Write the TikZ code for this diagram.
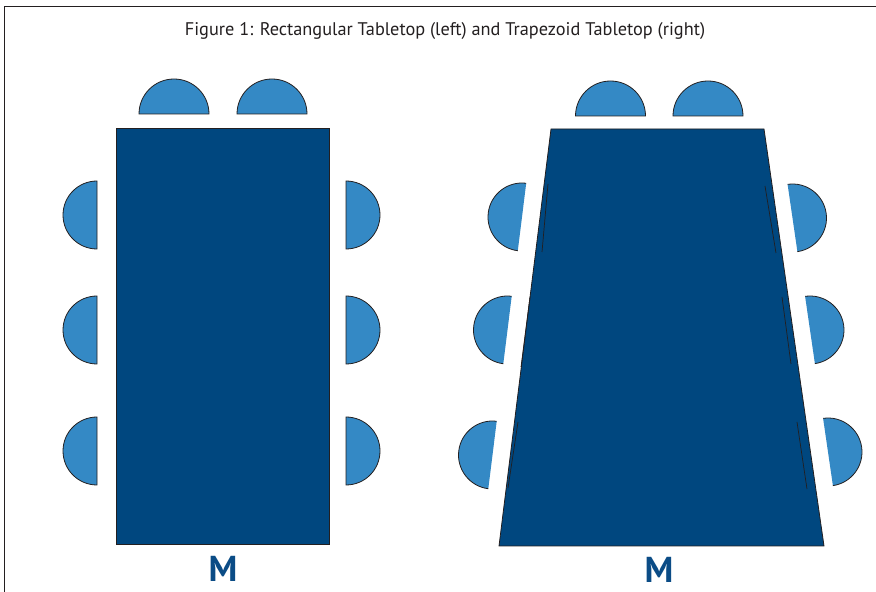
\documentclass[tikz,border=0pt]{standalone}
\usepackage{fontspec}
\setmainfont{PT Sans}
\usetikzlibrary{calc}
\definecolor{tabletop}{HTML}{00477F}
\definecolor{seat}{HTML}{3489C5}
\definecolor{ink}{HTML}{231F20}
\definecolor{mark}{HTML}{0B4C86}
\tikzset{
  tablebox/.style={fill=tabletop, draw=ink, line width=0.8pt},
  seatbox/.style={fill=seat, draw=ink, line width=0.8pt},
  seatfill/.style={fill=seat},
  seatrim/.style={draw=ink, line width=0.8pt},
  seam/.style={draw=ink, line width=0.7pt},
  frameline/.style={draw=ink, line width=0.9pt},
  mlabel/.style={font=\fontsize{36}{36}\selectfont\bfseries, text=mark, inner sep=0pt, anchor=base},
}
\begin{document}
\begin{tikzpicture}[x=1pt, y=1pt]
  \useasboundingbox (0,0) rectangle (876,592);
  % frame
  \draw[frameline] (4.5,0) -- (4.5,585.5) -- (876,585.5);
  % caption
  \node[font=\fontsize{18.3}{18.3}\selectfont, text=ink, inner sep=0pt, anchor=base] (caption) at (445,556)
    {Figure 1: Rectangular Tabletop (left) and Trapezoid Tabletop (right)};

  % ---------- rectangular table ----------
  \draw[tablebox] (116,48) rectangle (329,464);
  % head seats
  \draw[seatbox] (139,478) arc (180:0:35) -- cycle;
  \draw[seatbox] (237,478) arc (180:0:35) -- cycle;
  % left seats
  \foreach \yy in {377,262,141}
    \draw[seatbox] (97,\yy+34) arc (90:270:34) -- cycle;
  % right seats
  \foreach \yy in {377,262,141}
    \draw[seatbox] (346,\yy-34) arc (-90:90:34) -- cycle;
  \node[mlabel] (mrect) at (223,10) {M};

  % ---------- trapezoid table ----------
  \draw[tablebox] (499,46) -- (824,46) -- (764,463) -- (551,463) -- cycle;
  % head seats
  \draw[seatbox] (575.5,476) arc (180:0:35) -- cycle;
  \draw[seatbox] (673,476) arc (180:0:35) -- cycle;
  % left seats, tilted along the slanted edge
  \foreach \xx/\yy in {522/375, 507.5/262, 492.5/137}{
    \begin{scope}[shift={(\xx,\yy)}, rotate=-7.1]
      \fill[seatfill] (0,34) arc (90:270:34) -- cycle;
      \draw[seatrim] (0,34) arc (90:270:34);
    \end{scope}
  }
  % right seats, tilted along the slanted edge
  \foreach \xx/\yy in {792.5/374, 810/262, 828/140}{
    \begin{scope}[shift={(\xx,\yy)}, rotate=8.3]
      \fill[seatfill] (0,-34) arc (-90:90:34) -- cycle;
      \draw[seatrim] (0,-34) arc (-90:90:34);
    \end{scope}
  }
  % stray seams inside the slanted edges
  \draw[seam] (548,408) -- (542,340);
  \draw[seam] (530,295) -- (521,225);
  \draw[seam] (518,170) -- (508,104);
  \draw[seam] (765,406) -- (776,339);
  \draw[seam] (782,295) -- (791,228);
  \draw[seam] (797,170) -- (807,103);
  \node[mlabel] (mtrap) at (659,9.5) {M};
\end{tikzpicture}
\end{document}
